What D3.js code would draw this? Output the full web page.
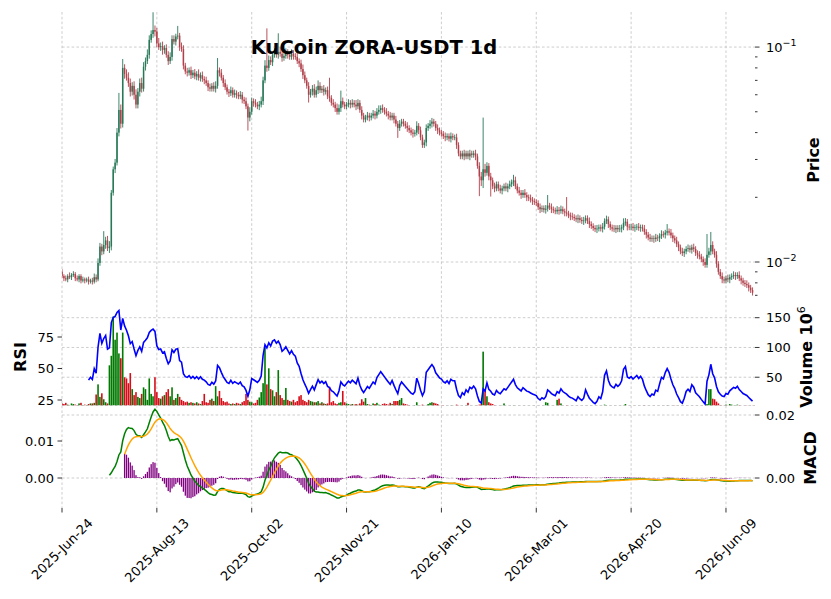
<!DOCTYPE html>
<html><head><meta charset="utf-8">
<script src="https://cdn.jsdelivr.net/npm/d3@7/dist/d3.min.js"></script>
<style>body{margin:0;background:#fff}svg{font-family:'DejaVu Sans',sans-serif}</style>
</head><body>
<svg id="c" width="831" height="599"></svg>
<script>
// ---------------- data ----------------
const titleText = "KuCoin ZORA-USDT 1d";
const tickIndex = [0, 50, 100, 150, 200, 250, 300, 350];
const tickLabels = ["2025-Jun-24","2025-Aug-13","2025-Oct-02","2025-Nov-21","2026-Jan-10","2026-Mar-01","2026-Apr-20","2026-Jun-09"];
const firstOpen = 0.0090;
const closes = [
0.0086,0.0084,0.0083,0.0086,0.0085,0.0087,0.0088,0.0084,0.0083,0.0086,
0.0082,0.0083,0.0082,0.0083,0.0081,0.0082,0.0081,0.0085,0.0083,0.0099,
0.0118,0.0112,0.0120,0.0126,0.0116,0.0118,0.0210,0.0270,0.0290,0.0400,
0.0510,0.0440,0.0800,0.0750,0.0720,0.0680,0.0620,0.0660,0.0600,0.0540,
0.0620,0.0680,0.0640,0.0810,0.0860,0.0920,0.1080,0.1150,0.1200,0.1180,
0.1040,0.1000,0.1010,0.0970,0.0990,0.0920,0.0860,0.0900,0.1090,0.1060,
0.1120,0.1130,0.1000,0.0980,0.0820,0.0770,0.0760,0.0780,0.0740,0.0760,
0.0730,0.0750,0.0720,0.0740,0.0710,0.0700,0.0680,0.0650,0.0640,0.0660,
0.0640,0.0660,0.0780,0.0760,0.0720,0.0680,0.0650,0.0620,0.0610,0.0630,
0.0600,0.0610,0.0600,0.0590,0.0600,0.0570,0.0560,0.0530,0.0470,0.0500,
0.0560,0.0550,0.0540,0.0530,0.0540,0.0560,0.0700,0.0820,0.0800,0.0870,
0.0850,0.0920,0.0940,0.0920,0.0950,0.0930,0.0890,0.0910,0.0940,0.0920,
0.0900,0.0930,0.0910,0.0900,0.0860,0.0840,0.0790,0.0740,0.0700,0.0660,
0.0600,0.0620,0.0640,0.0600,0.0630,0.0660,0.0630,0.0640,0.0620,0.0630,
0.0590,0.0580,0.0550,0.0540,0.0520,0.0500,0.0520,0.0560,0.0540,0.0530,
0.0540,0.0550,0.0540,0.0550,0.0540,0.0530,0.0550,0.0510,0.0480,0.0460,
0.0470,0.0480,0.0470,0.0480,0.0490,0.0480,0.0500,0.0510,0.0520,0.0510,
0.0500,0.0490,0.0480,0.0470,0.0480,0.0460,0.0440,0.0420,0.0440,0.0450,
0.0440,0.0430,0.0420,0.0410,0.0400,0.0395,0.0400,0.0430,0.0410,0.0380,
0.0350,0.0360,0.0420,0.0430,0.0440,0.0450,0.0440,0.0420,0.0410,0.0400,
0.0395,0.0385,0.0380,0.0385,0.0375,0.0385,0.0380,0.0380,0.0350,0.0320,
0.0310,0.0320,0.0310,0.0320,0.0310,0.0320,0.0315,0.0320,0.0310,0.0280,
0.0250,0.0240,0.0270,0.0260,0.0280,0.0250,0.0240,0.0225,0.0220,0.0230,
0.0220,0.0215,0.0220,0.0225,0.0220,0.0225,0.0230,0.0235,0.0240,0.0225,
0.0215,0.0210,0.0205,0.0210,0.0205,0.0200,0.0198,0.0195,0.0192,0.0190,
0.0188,0.0180,0.0176,0.0178,0.0175,0.0177,0.0183,0.0180,0.0176,0.0174,
0.0172,0.0175,0.0173,0.0176,0.0172,0.0170,0.0168,0.0165,0.0163,0.0162,
0.0160,0.0158,0.0160,0.0157,0.0155,0.0156,0.0160,0.0155,0.0150,0.0147,
0.0144,0.0142,0.0143,0.0145,0.0143,0.0146,0.0155,0.0158,0.0150,0.0145,
0.0143,0.0142,0.0144,0.0142,0.0143,0.0145,0.0152,0.0154,0.0146,0.0145,
0.0146,0.0144,0.0145,0.0146,0.0144,0.0145,0.0143,0.0138,0.0134,0.0130,
0.0128,0.0129,0.0128,0.0130,0.0129,0.0132,0.0135,0.0134,0.0137,0.0139,
0.0137,0.0133,0.0129,0.0126,0.0121,0.0117,0.0112,0.0110,0.0112,0.0115,
0.0116,0.0114,0.0117,0.0115,0.0110,0.0108,0.0106,0.0103,0.0100,0.0097,
0.0108,0.0112,0.0120,0.0112,0.0108,0.0098,0.0090,0.0086,0.0083,0.0082,
0.0084,0.0083,0.0085,0.0086,0.0087,0.0086,0.0087,0.0084,0.0082,0.0080,
0.0079,0.0078,0.0076,0.0074,0.0072];
// upper / lower wick length, percent of body top / bottom
const upWick = [
3,2,3,2,4,2,3,2,3,2, 2,3,2,2,3,2,3,4,3,5, 4,3,16,4,5,6,3,3,4,5, 20,6,10,4,5,6,5,4,5,6,
4,5,6,5,4,6,5,4,21,5, 4,6,4,5,3,4,4,5,4,4, 3,11,3,5,4,3,4,3,4,3, 4,3,5,3,4,3,4,3,4,3,
4,5,14,3,4,3,4,3,3,4, 3,4,3,3,4,3,3,4,3,5, 4,3,4,3,4,5,4,6,49,5, 4,3,5,4,22,5,4,3,5,4,
3,5,4,3,4,3,4,5,4,3, 4,3,4,5,4,6,4,3,4,3, 4,22,3,4,3,5,4,12,4,3, 3,4,3,4,3,5,4,3,4,3,
3,4,3,3,4,3,4,5,3,4, 3,4,3,4,3,3,4,3,4,3, 3,3,4,3,3,4,3,5,3,4, 3,3,4,3,4,4,3,3,4,3,
3,3,4,3,3,4,3,3,4,3, 3,3,4,3,3,4,3,3,4,3, 4,5,74,6,4,3,4,3,4,3, 3,4,3,3,4,3,4,3,6,4,
3,4,3,3,4,3,3,4,3,3, 3,3,4,3,3,4,12,3,4,3, 3,4,3,4,3,3,18,3,3,4, 3,3,4,3,3,4,3,3,4,3,
3,3,4,3,3,4,3,4,3,3, 3,4,3,3,4,3,5,4,3,3, 3,4,3,3,4,3,3,4,3,3, 4,3,3,4,3,3,4,3,3,8,
3,4,3,3,4,3,3,4,3,3, 4,3,3,4,3,3,4,3,3,4, 25,4,15,4,3,4,3,3,4,3, 3,4,3,3,4,3,3,4,3,3,
3,4,3,3,3];
const downWick = [
2,3,2,3,2,3,2,3,2,3, 3,2,3,2,3,2,3,2,3,2, 3,4,3,4,3,5,4,3,4,3, 4,5,4,5,3,4,5,4,5,4,
4,5,4,3,4,3,4,3,4,5, 4,3,4,5,4,3,4,3,4,3, 4,3,4,3,4,3,4,3,4,3, 3,4,3,4,3,4,3,4,3,3,
3,4,3,4,3,4,3,3,4,3, 3,3,4,3,3,4,3,3,13,4, 3,4,3,3,4,3,4,3,4,3, 3,4,3,3,4,3,4,3,3,4,
3,3,4,3,3,4,3,4,3,3, 8,3,4,3,3,4,3,3,4,3, 3,4,3,3,4,3,3,4,3,3, 3,3,4,3,3,4,3,3,4,3,
3,3,4,3,3,4,3,3,4,3, 3,3,4,3,3,4,3,10,3,3, 3,3,4,3,3,4,3,3,4,3, 3,3,4,3,3,4,3,3,4,3,
3,3,4,3,3,4,3,3,4,3, 3,3,4,3,3,4,3,3,4,3, 19,6,8,4,3,4,16,3,4,3, 3,3,4,3,3,4,3,3,4,3,
3,3,4,3,3,4,3,3,4,3, 3,3,4,3,3,4,3,3,4,3, 3,3,4,3,3,4,3,3,4,3, 3,3,4,3,3,4,3,3,4,3,
3,3,4,3,3,4,3,3,4,3, 3,3,4,3,3,4,3,3,4,3, 3,3,4,3,3,4,3,3,4,3, 3,3,4,3,3,4,3,3,4,3,
3,3,4,3,3,4,3,3,4,3, 3,3,4,3,3,4,3,3,4,3, 3,3,4,3,3,4,3,3,4,3, 3,3,4,3,3,4,3,3,4,3,
3,3,4,3,3];
// volume, millions
const volumes = [
6,5,7,4,3,6,5,4,3,6, 7,3,4,3,5,6,6,7,21,38, 17,23,13,8,6,70,86,152,113,125, 90,82,125,50,48,40,57,30,20,25,
17,15,22,33,30,12,48,22,18,50, 25,15,14,18,20,25,30,18,33,12, 15,22,17,12,10,8,9,7,8,7, 6,8,6,5,10,22,8,7,12,14,
10,35,18,27,15,10,8,9,6,5, 6,5,7,6,5,8,10,22,12,9, 8,6,7,12,16,25,40,100,38,65, 30,28,18,25,62,20,15,12,32,12,
10,9,12,8,10,18,20,12,10,8, 12,10,9,8,8,10,6,8,6,5, 6,34,8,10,6,5,7,8,27,8, 6,5,4,5,4,5,4,6,13,9,
15,5,4,3,6,5,7,4,3,5, 6,5,4,7,5,10,10,10,12,15, 6,5,4,3,2,2,3,8,2,3, 4,2,3,5,7,8,7,6,5,3,
2,3,2,2,2,3,2,2,4,3, 2,2,2,3,7,2,2,2,2,3, 4,5,93,30,18,8,6,5,3,2, 2,2,3,6,2,2,2,2,3,2,
2,2,2,2,2,2,2,2,2,2, 2,2,2,2,2,8,7,2,2,2, 2,12,14,6,2,2,3,2,2,2, 2,2,2,2,2,2,2,2,2,2,
2,2,2,2,2,2,4,3,2,2, 2,2,2,2,2,2,3,5,2,2, 2,2,2,2,2,2,2,3,2,2, 2,2,2,2,2,2,2,2,2,3,
2,2,2,3,2,2,2,2,2,2, 2,2,2,2,2,2,2,2,2,3, 5,30,30,14,13,9,6,3,2,3, 4,3,5,4,3,2,4,3,2,2,
2,3,2,2,3];
const priceTicks = [0.1, 0.01];
const priceTickExp = ["−1", "−2"];
const priceMinor = [0.007,0.008,0.009,0.02,0.03,0.04,0.05,0.06,0.07,0.08,0.09];
const volTicks = [50, 100, 150];
const rsiTicks = [25, 50, 75];
const macdRightTicks = [0, 0.02];
const macdLeftTicks = [0, 0.01];

// ---------------- derived series (standard indicator definitions) ----------------
const N = closes.length;
const opens = closes.map((c, i) => i === 0 ? firstOpen : closes[i - 1]);
const highs = closes.map((c, i) => Math.max(opens[i], c) * (1 + upWick[i] / 100));
const lows = closes.map((c, i) => Math.min(opens[i], c) * (1 - downWick[i] / 100));
const up = closes.map((c, i) => c >= opens[i]);

// RSI 14 (Wilder)
const rsi = new Array(N).fill(null);
{
  let g = 0, l = 0;
  for (let i = 1; i <= 14; i++) { const d = closes[i] - closes[i - 1]; g += Math.max(d, 0); l += Math.max(-d, 0); }
  let ag = g / 14, al = l / 14;
  rsi[14] = 100 - 100 / (1 + ag / al);
  for (let i = 15; i < N; i++) {
    const d = closes[i] - closes[i - 1];
    ag = (ag * 13 + Math.max(d, 0)) / 14; al = (al * 13 + Math.max(-d, 0)) / 14;
    rsi[i] = 100 - 100 / (1 + ag / al);
  }
}
// MACD 12/26/9
function ema(arr, span, start) {
  const a = 2 / (span + 1), out = new Array(arr.length).fill(null);
  out[start] = arr[start];
  for (let i = start + 1; i < arr.length; i++) out[i] = a * arr[i] + (1 - a) * out[i - 1];
  return out;
}
const e12 = ema(closes, 12, 0), e26 = ema(closes, 26, 0);
const macdRaw = closes.map((c, i) => e12[i] - e26[i]);
const sigRaw = ema(macdRaw.map((v, i) => i < 25 ? 0 : v), 9, 25);
const macd = macdRaw.map((v, i) => i >= 25 ? v : null);
const signal = sigRaw.map((v, i) => i >= 33 ? v : null);
const hist = macdRaw.map((v, i) => i >= 33 ? v - sigRaw[i] : null);

// ---------------- layout ----------------
const svg = d3.select("#c");
const L = 62, R = 755;
const P = {top: 12, bot: 300}, V = {top: 300, bot: 405.5}, M = {top: 406, bot: 508};
const x = d3.scaleLinear().domain([0, 365.3]).range([L, R]);
const yP = d3.scaleLog().domain([0.1456, 0.006657]).range([P.top, P.bot]);
const yV = d3.scaleLinear().domain([0, 150]).range([407, 317.7]);
const yR = d3.scaleLinear().domain([25, 75]).range([400, 337]);
const yMR = d3.scaleLinear().domain([0, 0.02]).range([478, 415]);
const yML = d3.scaleLinear().domain([0, 0.01]).range([478, 441]);

const defs = svg.append("defs");
[["cp", P], ["cv", V], ["cm", M]].forEach(([id, p]) => {
  defs.append("clipPath").attr("id", id).append("rect").attr("x", L).attr("y", p.top).attr("width", R - L).attr("height", p.bot - p.top);
});

const gridC = "#c0c0c0";
const grid = svg.append("g").attr("stroke", gridC).attr("stroke-width", 0.8).attr("stroke-dasharray", "2.6,2.2").attr("fill", "none");
tickIndex.forEach(t => grid.append("line").attr("x1", x(t)).attr("x2", x(t)).attr("y1", P.top).attr("y2", M.bot));
priceTicks.forEach(t => grid.append("line").attr("x1", L).attr("x2", R).attr("y1", yP(t)).attr("y2", yP(t)));
volTicks.forEach(t => grid.append("line").attr("x1", L).attr("x2", R).attr("y1", yV(t)).attr("y2", yV(t)));
macdRightTicks.forEach(t => grid.append("line").attr("x1", L).attr("x2", R).attr("y1", yMR(t)).attr("y2", yMR(t)));
grid.append("line").attr("x1", L).attr("x2", R).attr("y1", V.bot).attr("y2", V.bot);

// ---------------- candles ----------------
const upC = "#287858", dnC = "#b0404a";
const gp = svg.append("g").attr("clip-path", "url(#cp)");
const idx = d3.range(N);
gp.selectAll("line.w").data(idx).join("line")
  .attr("x1", i => x(i)).attr("x2", i => x(i))
  .attr("y1", i => yP(highs[i])).attr("y2", i => yP(lows[i]))
  .attr("stroke", i => up[i] ? upC : dnC).attr("stroke-width", 0.9);
gp.selectAll("rect.b").data(idx).join("rect")
  .attr("x", i => x(i) - 0.75).attr("width", 1.5)
  .attr("y", i => Math.min(yP(opens[i]), yP(closes[i])))
  .attr("height", i => Math.max(Math.abs(yP(opens[i]) - yP(closes[i])), 0.7))
  .attr("fill", i => up[i] ? upC : dnC);

// ---------------- volume + RSI ----------------
const gv = svg.append("g").attr("clip-path", "url(#cv)");
gv.selectAll("rect").data(idx).join("rect")
  .attr("x", i => x(i) - 0.8).attr("width", 1.6)
  .attr("y", i => yV(volumes[i]))
  .attr("height", i => Math.max(0, V.bot - yV(volumes[i])))
  .attr("fill", i => up[i] ? "#007a00" : "#d50d18");
gv.append("path").datum(idx.filter(i => rsi[i] !== null))
  .attr("d", d3.line().x(i => x(i)).y(i => yR(rsi[i])))
  .attr("fill", "none").attr("stroke", "#0000ff").attr("stroke-width", 1.6);

// ---------------- MACD ----------------
const gm = svg.append("g").attr("clip-path", "url(#cm)");
gm.selectAll("rect").data(idx.filter(i => hist[i] !== null)).join("rect")
  .attr("x", i => x(i) - 0.65).attr("width", 1.3)
  .attr("y", i => Math.min(yML(hist[i]), yML(0)))
  .attr("height", i => Math.abs(yML(hist[i]) - yML(0)))
  .attr("fill", "#800080");
gm.append("path").datum(idx.filter(i => macd[i] !== null))
  .attr("d", d3.line().x(i => x(i)).y(i => yMR(macd[i])))
  .attr("fill", "none").attr("stroke", "#008000").attr("stroke-width", 1.5);
gm.append("path").datum(idx.filter(i => signal[i] !== null))
  .attr("d", d3.line().x(i => x(i)).y(i => yMR(signal[i])))
  .attr("fill", "none").attr("stroke", "#ffa500").attr("stroke-width", 1.5);

// ---------------- axes ----------------
const ax = svg.append("g").attr("font-size", 13).attr("fill", "#000");
const tick = (x1, x2, y1, y2) => ax.append("line").attr("x1", x1).attr("x2", x2).attr("y1", y1).attr("y2", y2).attr("stroke", "#000").attr("stroke-width", 0.8);
priceTicks.forEach((t, k) => {
  const y = yP(t);
  tick(R, R + 4.5, y, y);
  const tx = ax.append("text").attr("x", R + 11).attr("y", y + 4.5);
  tx.append("tspan").text("10");
  tx.append("tspan").attr("dy", -6).attr("font-size", 9.5).text(priceTickExp[k]);
});
priceMinor.forEach(t => tick(R, R + 2.5, yP(t), yP(t)));
volTicks.forEach(t => { const y = yV(t); tick(R, R + 4.5, y, y); ax.append("text").attr("x", R + 11).attr("y", y + 4.5).text(t); });
macdRightTicks.forEach(t => { const y = yMR(t); tick(R, R + 4.5, y, y); ax.append("text").attr("x", R + 11).attr("y", y + 4.5).text(t.toFixed(2)); });
rsiTicks.forEach(t => { const y = yR(t); tick(L - 4.5, L, y, y); ax.append("text").attr("x", L - 8).attr("y", y + 4.5).attr("text-anchor", "end").text(t); });
macdLeftTicks.forEach(t => { const y = yML(t); tick(L - 4.5, L, y, y); ax.append("text").attr("x", L - 8).attr("y", y + 4.5).attr("text-anchor", "end").text(t.toFixed(2)); });
tickIndex.forEach((t, k) => {
  const xt = x(t);
  tick(xt, xt, M.bot, M.bot + 4.5);
  const tx = ax.append("text").attr("text-anchor", "end").attr("dominant-baseline", "central").text(tickLabels[k]);
  const len = tx.node().getComputedTextLength();
  const h = 13;
  tx.attr("transform", `translate(${xt + 0.354 * len},${516 + 0.354 * h}) rotate(-45)`);
});

// ---------------- labels ----------------
const lab = svg.append("g").attr("font-size", 16).attr("font-weight", "bold").attr("text-anchor", "middle");
lab.append("text").attr("transform", "translate(819,160) rotate(-90)").text("Price");
const vl = lab.append("text").attr("transform", "translate(812,357) rotate(-90)");
vl.append("tspan").text("Volume  10");
vl.append("tspan").attr("dy", -7).attr("font-size", 11).attr("font-weight", "normal").text("6");
lab.append("text").attr("transform", "translate(816,458) rotate(-90)").text("MACD");
lab.append("text").attr("transform", "translate(26,357) rotate(-90)").text("RSI");
svg.append("text").attr("x", 374).attr("y", 54).attr("text-anchor", "middle").attr("font-size", 19.5).attr("font-weight", "bold").text(titleText);
</script>
</body></html>
